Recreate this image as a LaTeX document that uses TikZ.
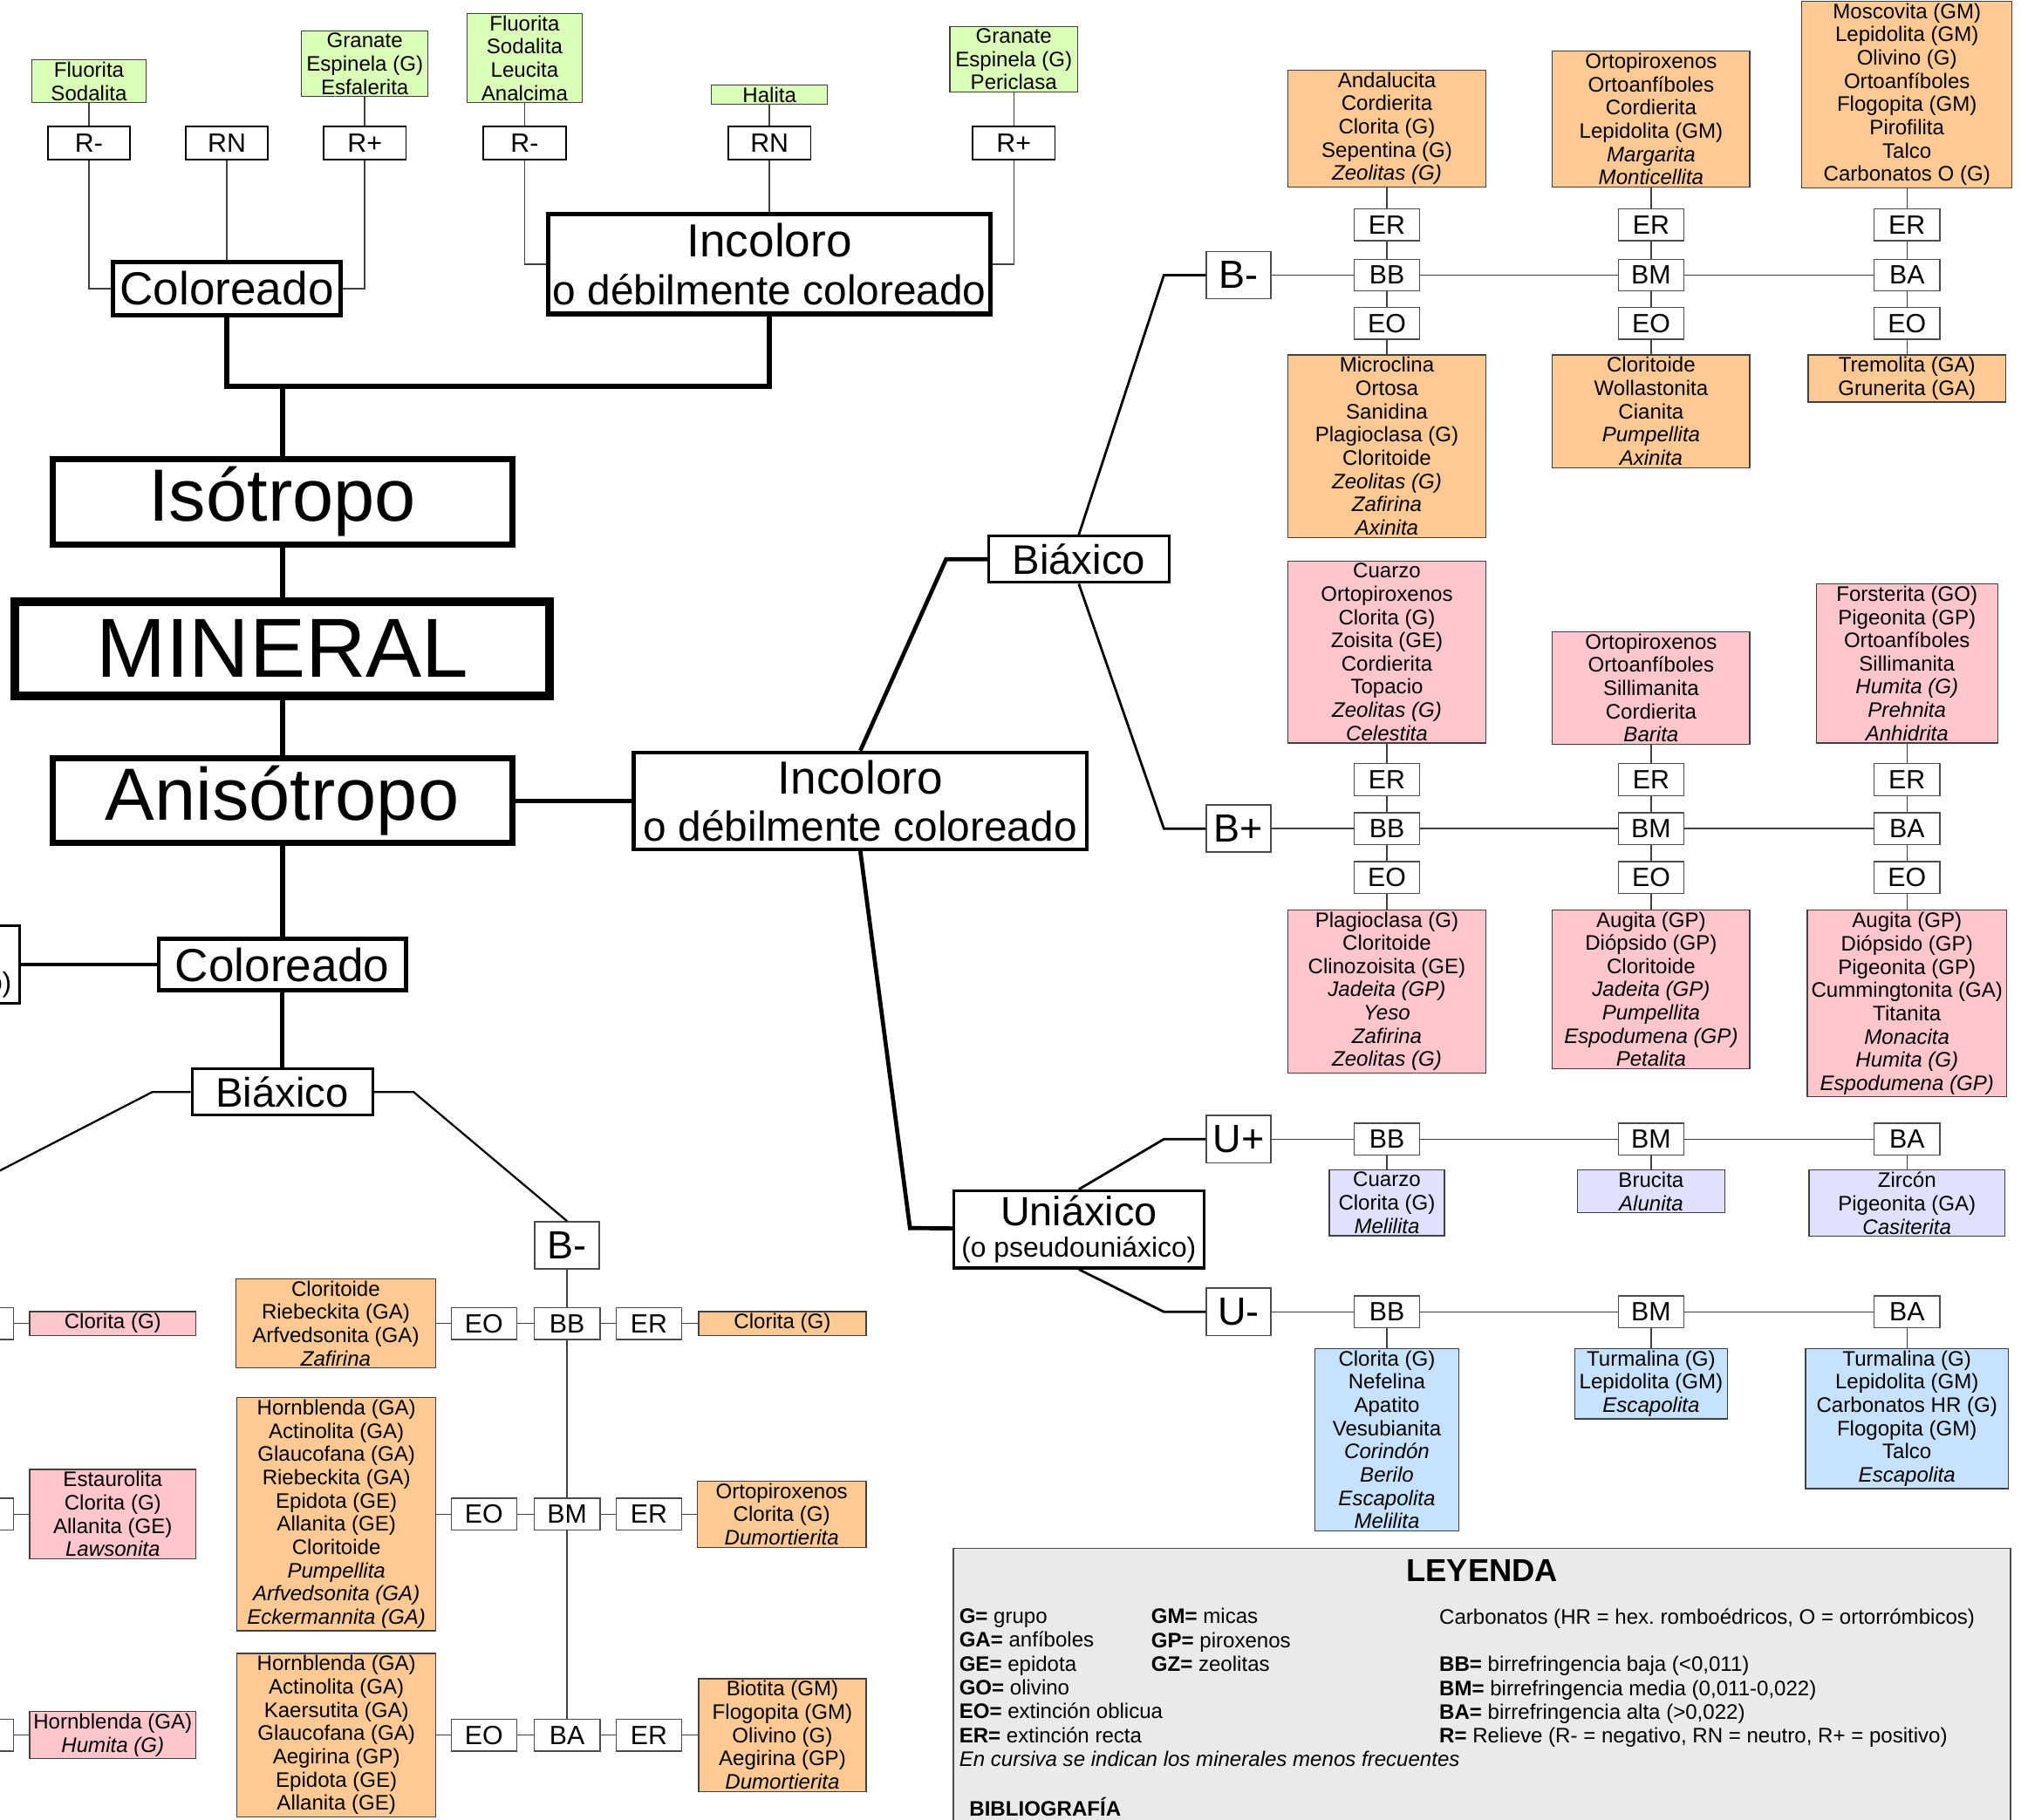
\documentclass[tikz,border=0pt]{standalone}
\usepackage{fontspec}
\setmainfont{Liberation Sans}

\definecolor{naranja}{HTML}{FFC993}
\definecolor{rosa}{HTML}{FFC7CC}
\definecolor{verde}{HTML}{DBFFB8}
\definecolor{lila}{HTML}{E1E1FF}
\definecolor{celeste}{HTML}{C6E2FF}
\definecolor{gris}{HTML}{EAEAEA}

\newcommand{\fsz}[2]{\fontsize{#1}{#2}\selectfont}
\frenchspacing

\begin{document}
\begin{tikzpicture}[x=0.03cm, y=-0.03cm]
      \tikzset{
        lista/.style={draw=black!75, line width=0.7pt, align=center, inner xsep=0.04cm, inner ysep=0.05cm, font=\fsz{13.9}{15.4}},
        relieve/.style={draw, line width=1.1pt, fill=white, minimum width=1.92cm, minimum height=0.76cm, inner sep=0pt, font=\fsz{17.5}{18}},
        caja/.style={draw=black!70, line width=0.8pt, fill=white, minimum width=1.53cm, minimum height=0.74cm, inner sep=0pt, font=\fsz{17.5}{18}},
        signo/.style={draw=black!70, line width=0.9pt, fill=white, minimum width=1.5cm, minimum height=1.1cm, inner sep=0pt, font=\fsz{26}{26}},
        grande/.style={draw, fill=white, align=center, inner sep=0pt},
        fino/.style={draw=black!75, line width=0.8pt},
        medio/.style={line width=1.6pt},
        grueso/.style={line width=2.7pt},
        masivo/.style={line width=3.5pt}
      }

      \useasboundingbox (0,0) rectangle (1568,1412);
      \clip (0,0) rectangle (1568,1412);

      % isotropos
      \node[lista, fill=verde, minimum width=2.67cm] (gcm) at (69,63) {Fluorita\\Sodalita};
      \node[lista, fill=verde, minimum width=2.94cm] (gcp) at (283,49.5) {Granate\\Espinela (G)\\Esfalerita};
      \node[lista, fill=verde, minimum width=2.69cm] (gim) at (407,45) {Fluorita\\Sodalita\\Leucita\\Analcima};
      \node[lista, fill=verde, minimum width=2.7cm] (gin) at (597,73.4) {Halita};
      \node[lista, fill=verde, minimum width=2.97cm] (gip) at (786.5,46) {Granate\\Espinela (G)\\Periclasa};

      \node[relieve] (rcm) at (69,111) {R-};
      \node[relieve] (rcn) at (176,111) {RN};
      \node[relieve] (rcp) at (283,111) {R+};
      \node[relieve] (rim) at (407,111) {R-};
      \node[relieve] (rin) at (597,111) {RN};
      \node[relieve] (rip) at (786.5,111) {R+};

      \node[grande, line width=3pt, minimum width=5.3cm, minimum height=1.24cm, font=\fsz{30.7}{31}] (colS) at (176,224) {Coloreado};
      \node[grande, line width=3pt, minimum width=10.3cm, minimum height=2.32cm, font=\fsz{27.6}{31.5}] (incS) at (597,205) {{\fsz{30.7}{31.5}Incoloro}\\o débilmente coloreado};
      \coordinate (union) at (219,300);

      \node[grande, line width=4pt, minimum width=10.7cm, minimum height=2.0cm, font=\fsz{49}{49}] (iso) at (219,389.5) {Isótropo};
      \node[grande, line width=5.6pt, minimum width=12.45cm, minimum height=2.2cm, font=\fsz{55.5}{56}] (mineral) at (219,503.4) {MINERAL};
      \node[grande, line width=4pt, minimum width=10.7cm, minimum height=1.97cm, font=\fsz{49}{49}] (aniso) at (219,621.5) {Anisótropo};

      % anisotropos coloreados
      \node[grande, line width=2.8pt, minimum width=5.75cm, minimum height=1.2cm, font=\fsz{30.7}{31}] (colI) at (219,748.5) {Coloreado};
      \node[grande, line width=1.8pt, minimum width=5.82cm, minimum height=1.8cm, font=\fsz{27}{20.5}] (uniC) at (-82,748.5) {Uniáxico\\{\fsz{18.4}{20.5}(o pseudouniáxico)}};
      \node[grande, line width=1.8pt, minimum width=4.2cm, minimum height=1.08cm, font=\fsz{27.3}{28}] (biaC) at (219,847.5) {Biáxico};
      \node[signo] (bnegC) at (440,966.5) {B-};

      \foreach \n/\lab/\y in {bb/BB/1027, bm/BM/1175, ba/BA/1346.5} {
        \node[caja] (\n C) at (440,\y) {\lab};
        \node[caja] (eo\n C) at (375.5,\y) {EO};
        \node[caja] (er\n C) at (503.5,\y) {ER};
        \node[caja] (x\n) at (-15,\y) {};
      }

      \node[lista, fill=naranja, minimum width=4.65cm] (cloritoide2) at (260.5,1027) {Cloritoide\\Riebeckita (GA)\\Arfvedsonita (GA)\\\textit{Zafirina}};
      \node[lista, fill=naranja, minimum width=4.62cm] (hornblenda1) at (261,1175) {Hornblenda (GA)\\Actinolita (GA)\\Glaucofana (GA)\\Riebeckita (GA)\\Epidota (GE)\\Allanita (GE)\\Cloritoide\\\textit{Pumpellita}\\\textit{Arfvedsonita (GA)}\\\textit{Eckermannita (GA)}};
      \node[lista, fill=naranja, minimum width=4.62cm] (hornblenda2) at (261,1346.5) {Hornblenda (GA)\\Actinolita (GA)\\Kaersutita (GA)\\Glaucofana (GA)\\Aegirina (GP)\\Epidota (GE)\\Allanita (GE)};
      \node[lista, fill=naranja, minimum width=3.9cm] (clorita2) at (607,1027) {Clorita (G)};
      \node[lista, fill=naranja, minimum width=3.93cm] (ortopirox3) at (606.5,1175) {Ortopiroxenos\\Clorita (G)\\\textit{Dumortierita}};
      \node[lista, fill=naranja, minimum width=3.9cm] (biotita) at (607,1346.5) {Biotita (GM)\\Flogopita (GM)\\Olivino (G)\\Aegirina (GP)\\\textit{Dumortierita}};
      \node[lista, fill=rosa, minimum width=3.87cm] (clorita3) at (87.5,1027) {Clorita (G)};
      \node[lista, fill=rosa, minimum width=3.87cm] (estaurolita) at (87.5,1175) {Estaurolita\\Clorita (G)\\Allanita (GE)\\\textit{Lawsonita}};
      \node[lista, fill=rosa, minimum width=3.87cm] (hornblenda3) at (87.5,1346.5) {Hornblenda (GA)\\\textit{Humita (G)}};

      % anisotropos incoloros
      \node[grande, line width=2.6pt, minimum width=10.55cm, minimum height=2.25cm, font=\fsz{27.6}{31.5}] (incI) at (667.5,621.5) {{\fsz{30.7}{31.5}Incoloro}\\o débilmente coloreado};
      \node[grande, line width=1.8pt, minimum width=4.2cm, minimum height=1.08cm, font=\fsz{27.3}{28}] (biaI) at (837,434) {Biáxico};
      \node[grande, line width=1.8pt, minimum width=5.82cm, minimum height=1.8cm, font=\fsz{27}{20.5}] (uniI) at (837,954) {Uniáxico\\{\fsz{18.4}{20.5}(o pseudouniáxico)}};

      \node[signo] (bneg) at (961,213.5) {B-};
      \node[signo] (bpos) at (961,643) {B+};
      \node[signo] (upos) at (961,884) {U+};
      \node[signo] (uneg) at (961,1018) {U-};

      \foreach \n/\lab/\x in {bb/BB/1076, bm/BM/1281, ba/BA/1479.5} {
        \node[caja] (er\n neg) at (\x,174.5) {ER};
        \node[caja] (\n neg) at (\x,213.5) {\lab};
        \node[caja] (eo\n neg) at (\x,251) {EO};
        \node[caja] (er\n pos) at (\x,605) {ER};
        \node[caja] (\n pos) at (\x,643) {\lab};
        \node[caja] (eo\n pos) at (\x,681) {EO};
        \node[caja] (\n upos) at (\x,884) {\lab};
        \node[caja] (\n uneg) at (\x,1018) {\lab};
      }

      \node[lista, fill=naranja, minimum width=4.6cm, anchor=south] (andalucita) at (1076,145.5) {Andalucita\\Cordierita\\Clorita (G)\\Sepentina (G)\\\textit{Zeolitas (G)}};
      \node[lista, fill=naranja, minimum width=4.59cm, anchor=south] (ortopirox1) at (1281,145.5) {Ortopiroxenos\\Ortoanfíboles\\Cordierita\\Lepidolita (GM)\\\textit{Margarita}\\\textit{Monticellita}};
      \node[lista, fill=naranja, minimum width=4.89cm, anchor=south] (moscovita) at (1479.5,146) {Moscovita (GM)\\Lepidolita (GM)\\Olivino (G)\\Ortoanfíboles\\Flogopita (GM)\\Pirofilita\\Talco\\Carbonatos O (G)};
      \node[lista, fill=naranja, minimum width=4.6cm, anchor=north] (microclina) at (1076,275) {Microclina\\Ortosa\\Sanidina\\Plagioclasa (G)\\Cloritoide\\\textit{Zeolitas (G)}\\\textit{Zafirina}\\\textit{Axinita}};
      \node[lista, fill=naranja, minimum width=4.59cm, anchor=north] (cloritoide1) at (1281,275) {Cloritoide\\Wollastonita\\Cianita\\\textit{Pumpellita}\\\textit{Axinita}};
      \node[lista, fill=naranja, minimum width=4.6cm, anchor=north] (tremolita) at (1479.5,275) {Tremolita (GA)\\Grunerita (GA)};

      \node[lista, fill=rosa, minimum width=4.6cm, anchor=south] (cuarzo1) at (1076,577) {Cuarzo\\Ortopiroxenos\\Clorita (G)\\Zoisita (GE)\\Cordierita\\Topacio\\\textit{Zeolitas (G)}\\\textit{Celestita}};
      \node[lista, fill=rosa, minimum width=4.59cm, anchor=south] (ortopirox2) at (1281,578) {Ortopiroxenos\\Ortoanfíboles\\Sillimanita\\Cordierita\\\textit{Barita}};
      \node[lista, fill=rosa, minimum width=4.22cm, anchor=south] (forsterita) at (1479.5,577) {Forsterita (GO)\\Pigeonita (GP)\\Ortoanfíboles\\Sillimanita\\\textit{Humita (G)}\\\textit{Prehnita}\\\textit{Anhidrita}};
      \node[lista, fill=rosa, minimum width=4.6cm, anchor=north] (plagioclasa) at (1076,705.5) {Plagioclasa (G)\\Cloritoide\\Clinozoisita (GE)\\\textit{Jadeita (GP)}\\\textit{Yeso}\\\textit{Zafirina}\\\textit{Zeolitas (G)}};
      \node[lista, fill=rosa, minimum width=4.59cm, anchor=north] (augita1) at (1281,705.5) {Augita (GP)\\Diópsido (GP)\\Cloritoide\\\textit{Jadeita (GP)}\\\textit{Pumpellita}\\\textit{Espodumena (GP)}\\\textit{Petalita}};
      \node[lista, fill=rosa, minimum width=4.64cm, anchor=north] (augita2) at (1479.5,706) {Augita (GP)\\Diópsido (GP)\\Pigeonita (GP)\\Cummingtonita (GA)\\Titanita\\\textit{Monacita}\\\textit{Humita (G)}\\\textit{Espodumena (GP)}};

      \node[lista, fill=lila, minimum width=2.68cm, anchor=north] (cuarzo2) at (1076,907.5) {Cuarzo\\Clorita (G)\\\textit{Melilita}};
      \node[lista, fill=lila, minimum width=3.43cm, anchor=north] (brucita) at (1281,907.5) {Brucita\\\textit{Alunita}};
      \node[lista, fill=lila, minimum width=4.56cm, anchor=north] (zircon) at (1479.5,907.5) {Zircón\\Pigeonita (GA)\\\textit{Casiterita}};
      \node[lista, fill=celeste, minimum width=3.36cm, anchor=north] (clorita1) at (1076,1046) {Clorita (G)\\Nefelina\\Apatito\\Vesubianita\\\textit{Corindón}\\\textit{Berilo}\\\textit{Escapolita}\\\textit{Melilita}};
      \node[lista, fill=celeste, minimum width=3.56cm, anchor=north] (turmalina1) at (1281,1046) {Turmalina (G)\\Lepidolita (GM)\\\textit{Escapolita}};
      \node[lista, fill=celeste, minimum width=4.72cm, anchor=north] (turmalina2) at (1479.5,1046) {Turmalina (G)\\Lepidolita (GM)\\Carbonatos HR (G)\\Flogopita (GM)\\Talco\\\textit{Escapolita}};

      % conectores
      \draw[fino] (gcm) -- (rcm);
      \draw[fino] (gcp) -- (rcp);
      \draw[fino] (gim) -- (rim);
      \draw[fino] (gin) -- (rin);
      \draw[fino] (gip) -- (rip);
      \draw[fino] (rcm) |- (colS);
      \draw[fino] (rcn) -- (colS);
      \draw[fino] (rcp) |- (colS);
      \draw[fino] (rim) |- (incS);
      \draw[fino] (rin) -- (incS);
      \draw[fino] (rip) |- (incS);
      \draw[masivo] (colS) |- (union) -| (incS);
      \draw[masivo] (union) -- (iso);
      \draw[masivo] (iso) -- (mineral);
      \draw[masivo] (mineral) -- (aniso);
      \draw[masivo] (aniso) -- (colI);
      \draw[grueso] (aniso) -- (incI);
      \draw[grueso] (colI) -- (uniC);
      \draw[grueso] (colI) -- (biaC);

      \coordinate (codoC) at (321,847.5);
      \coordinate (codoD) at (118,847.5);
      \coordinate (finD) at (-40,929);
      \draw[line width=1.3pt] (biaC) -- (codoC) -- (bnegC.north);
      \draw[line width=1.3pt] (biaC) -- (codoD) -- (finD);
      \draw[fino] (bnegC) -- (bbC) -- (bmC) -- (baC);
      \draw[fino] (cloritoide2) -- (eobbC) -- (bbC) -- (erbbC) -- (clorita2);
      \draw[fino] (hornblenda1) -- (eobmC) -- (bmC) -- (erbmC) -- (ortopirox3);
      \draw[fino] (hornblenda2) -- (eobaC) -- (baC) -- (erbaC) -- (biotita);
      \draw[fino] (xbb) -- (clorita3);
      \draw[fino] (xbm) -- (estaurolita);
      \draw[fino] (xba) -- (hornblenda3);

      \coordinate (codoB) at (734,434);
      \coordinate (codoU) at (706,953);
      \draw[grueso] (incI.north) -- (codoB) -- (biaI);
      \draw[grueso] (incI.south) -- (codoU) -- (uniI);
      \coordinate (codoBn) at (903,213.5);
      \coordinate (codoBp) at (903,643);
      \coordinate (codoUp) at (903,884);
      \coordinate (codoUn) at (903,1018);
      \draw[medio] (biaI.north) -- (codoBn) -- (bneg);
      \draw[medio] (biaI.south) -- (codoBp) -- (bpos);
      \draw[medio] (uniI.north) -- (codoUp) -- (upos);
      \draw[medio] (uniI.south) -- (codoUn) -- (uneg);

      \draw[fino] (bneg) -- (bbneg) -- (bmneg) -- (baneg);
      \draw[fino] (bpos) -- (bbpos) -- (bmpos) -- (bapos);
      \draw[fino] (upos) -- (bbupos) -- (bmupos) -- (baupos);
      \draw[fino] (uneg) -- (bbuneg) -- (bmuneg) -- (bauneg);
      \draw[fino] (andalucita) -- (erbbneg) -- (bbneg) -- (eobbneg) -- (microclina);
      \draw[fino] (ortopirox1) -- (erbmneg) -- (bmneg) -- (eobmneg) -- (cloritoide1);
      \draw[fino] (moscovita) -- (erbaneg) -- (baneg) -- (eobaneg) -- (tremolita);
      \draw[fino] (cuarzo1) -- (erbbpos) -- (bbpos) -- (eobbpos) -- (plagioclasa);
      \draw[fino] (ortopirox2) -- (erbmpos) -- (bmpos) -- (eobmpos) -- (augita1);
      \draw[fino] (forsterita) -- (erbapos) -- (bapos) -- (eobapos) -- (augita2);
      \draw[fino] (bbupos) -- (cuarzo2);
      \draw[fino] (bmupos) -- (brucita);
      \draw[fino] (baupos) -- (zircon);
      \draw[fino] (bbuneg) -- (clorita1);
      \draw[fino] (bmuneg) -- (turmalina1);
      \draw[fino] (bauneg) -- (turmalina2);

      % leyenda
      \node[draw=black!70, line width=1pt, fill=gris, minimum width=24.6cm, minimum height=7cm, anchor=north west, inner sep=0pt] (leyenda) at (739,1201) {};
      \node[anchor=base, font=\fsz{21}{21}\bfseries] (titulo) at (1150,1227) {LEYENDA};
      \node[anchor=north west, align=left, inner sep=0pt, font=\fsz{13.9}{15.8}] (grupos) at (744,1248) {\textbf{G=} grupo\\\textbf{GA=} anfíboles\\\textbf{GE=} epidota\\\textbf{GO=} olivino\\\textbf{EO=} extinción oblicua\\\textbf{ER=} extinción recta\\\textit{En cursiva se indican los minerales menos frecuentes}};
      \node[anchor=north west, align=left, inner sep=0pt, font=\fsz{13.9}{15.8}] (grupos2) at (893,1248) {\textbf{GM=} micas\\\textbf{GP=} piroxenos\\\textbf{GZ=} zeolitas};
      \node[anchor=north west, align=left, inner sep=0pt, font=\fsz{13.9}{15.8}] (claves) at (1116.5,1248) {Carbonatos (HR = hex. romboédricos, O = ortorrómbicos)\\[15.8pt]\textbf{BB=} birrefringencia baja (<0,011)\\\textbf{BM=} birrefringencia media (0,011-0,022)\\\textbf{BA=} birrefringencia alta (>0,022)\\\textbf{R=} Relieve (R- = negativo, RN = neutro, R+ = positivo)};
      \node[anchor=base west, font=\fsz{13.9}{15.8}\bfseries] (biblio) at (748,1409) {BIBLIOGRAFÍA};
\end{tikzpicture}
\end{document}
